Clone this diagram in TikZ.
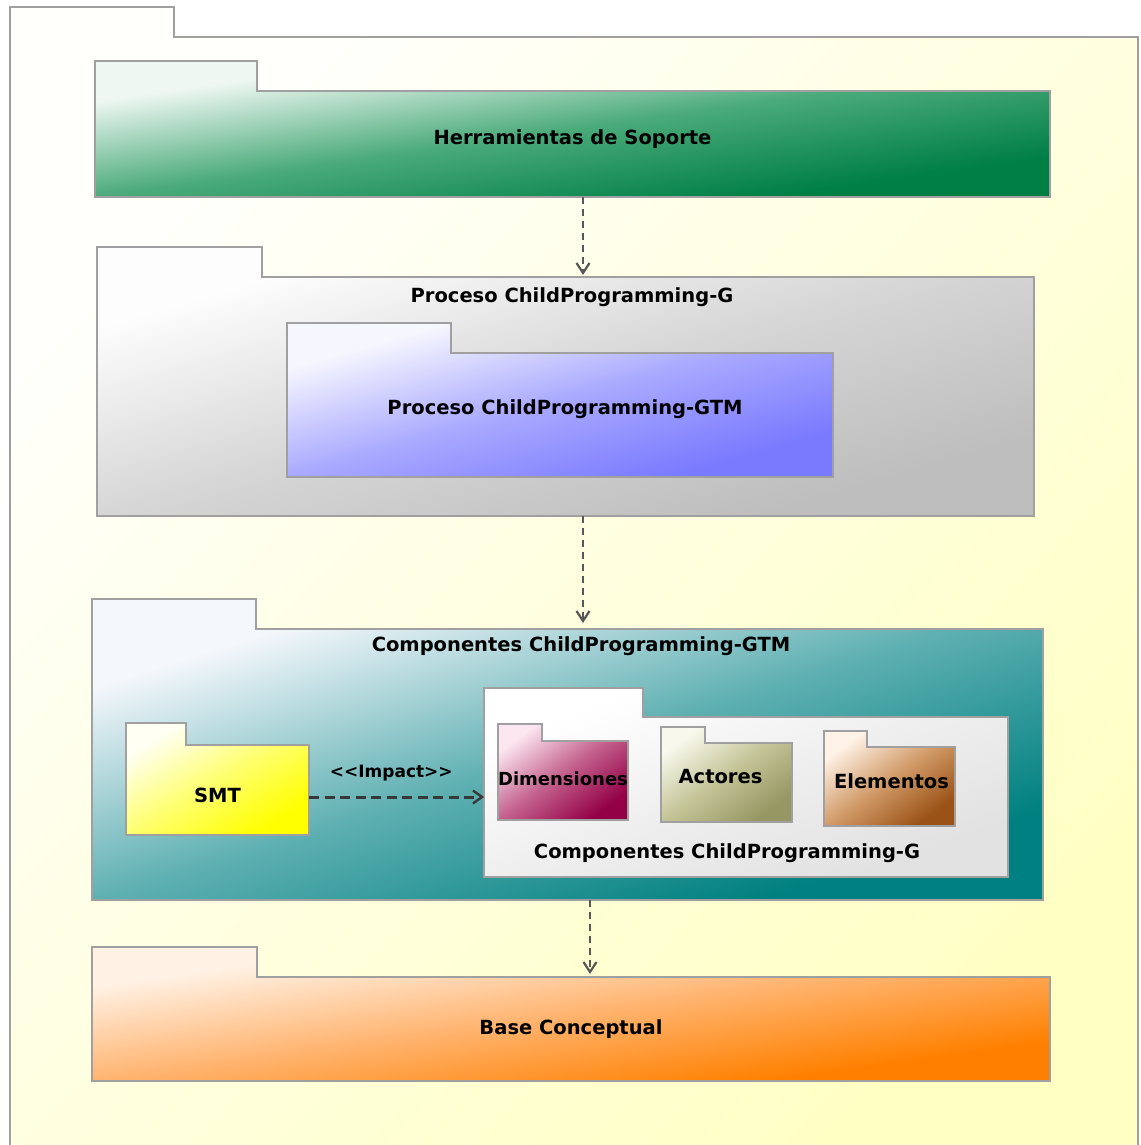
\documentclass[tikz,border=0pt]{standalone}
\usepackage{fontspec}
\setmainfont{DejaVu Sans}
\usetikzlibrary{arrows.meta}

% package fill colours: light corner, middle and dark corner of each gradient
\definecolor{bgL}{HTML}{FFFFFC}\definecolor{bgD}{HTML}{FFFFC4}
\definecolor{supL}{HTML}{EEF7F2}\definecolor{supM}{HTML}{4AAA7A}\definecolor{supD}{HTML}{007F45}
\definecolor{procL}{HTML}{FDFDFD}\definecolor{procM}{HTML}{D6D6D6}\definecolor{procD}{HTML}{BEBEBE}
\definecolor{gtmL}{HTML}{F6F6FF}\definecolor{gtmM}{HTML}{A9A9FF}\definecolor{gtmD}{HTML}{7A7AFF}
\definecolor{compL}{HTML}{F4F7FC}\definecolor{compM}{HTML}{5FB0B2}\definecolor{compD}{HTML}{008080}
\definecolor{smtL}{HTML}{FFFFF4}\definecolor{smtM}{HTML}{FFFF70}\definecolor{smtD}{HTML}{FFFF00}
\definecolor{cpgL}{HTML}{FFFFFF}\definecolor{cpgM}{HTML}{EFEFEF}\definecolor{cpgD}{HTML}{E2E2E2}
\definecolor{dimL}{HTML}{FCE6F0}\definecolor{dimM}{HTML}{C4628E}\definecolor{dimD}{HTML}{930046}
\definecolor{actL}{HTML}{F8F8EC}\definecolor{actM}{HTML}{C4C498}\definecolor{actD}{HTML}{979764}
\definecolor{eleL}{HTML}{FFF3E8}\definecolor{eleM}{HTML}{D29C6A}\definecolor{eleD}{HTML}{9A5216}
\definecolor{baseL}{HTML}{FFF1E4}\definecolor{baseM}{HTML}{FFB470}\definecolor{baseD}{HTML}{FF8000}
\definecolor{pkgedge}{HTML}{A0A0A0}

% UML package: name, gradient, left, tab top, tab right, body top, right, bottom.
% The gradient runs from the top-left corner to the bottom-right corner.
\newcommand\umlpkg[8]{%
  \begin{scope}
    \clip (#3,#4) -- (#5,#4) -- (#5,#6) -- (#7,#6) -- (#7,#8) -- (#3,#8) -- cycle;
    \begin{scope}[transform canvas={shift={(#3,#4)}, xscale={(#7-#3)/10}, yscale={(#8-#4)/10}}]
      \shade[#2] (0,0) rectangle (10,10);
    \end{scope}
  \end{scope}
  \draw[pkgline] (#3,#4) -- (#5,#4) -- (#5,#6) -- (#7,#6) -- (#7,#8) -- (#3,#8) -- cycle;
  \node[pkgbody, minimum width={(#7-#3)*1pt}, minimum height={(#8-#6)*1pt}]
    (#1) at ({(#3+#7)/2},{(#6+#8)/2}) {};%
}

\begin{document}
\begin{tikzpicture}[x=1pt,y=-1pt,
  pkgline/.style={draw=pkgedge, line width=1.5pt, line join=miter},
  pkgbody/.style={rectangle, inner sep=0pt, outer sep=0pt},
  grad/.style n args={3}{top color=#1, bottom color=#3, middle color=#2, shading angle=45},
  pkglabel/.style={font=\fontsize{19.5}{22}\selectfont\bfseries, inner sep=0pt},
  dependency/.style={draw=black!66, line width=2.5pt, dash pattern=on 7pt off 5pt,
    -{Straight Barb[length=10pt,width=13pt,line width=2.2pt]}},
  impact/.style={draw=black!78, line width=3pt, dash pattern=on 10pt off 5.5pt,
    -{Straight Barb[length=9pt,width=13pt,line width=2.4pt]}}
]
\useasboundingbox (0,0) rectangle (1140,1145);
\fill[white] (0,0) rectangle (1140,1145);

% enclosing package
\umlpkg{outer}{grad={bgL}{bgL!50!bgD}{bgD}}{10}{7}{174}{37}{1138}{1170}

% packages
\umlpkg{support}{grad={supL}{supM}{supD}}{95}{61}{257}{91}{1050}{197}
\umlpkg{process}{grad={procL}{procM}{procD}}{97}{247}{262}{277}{1034}{516}
\umlpkg{processgtm}{grad={gtmL}{gtmM}{gtmD}}{287}{323}{451}{353}{833}{477}
\umlpkg{components}{grad={compL}{compM}{compD}}{92}{599}{256}{629}{1043}{900}
\umlpkg{smt}{grad={smtL}{smtM}{smtD}}{126}{723}{186}{745}{309}{835}
\umlpkg{componentsg}{grad={cpgL}{cpgM}{cpgD}}{484}{688}{643}{717}{1008}{877}
\umlpkg{dimensiones}{grad={dimL}{dimM}{dimD}}{498}{724}{542}{741}{628}{820}
\umlpkg{actores}{grad={actL}{actM}{actD}}{661}{727}{705}{743}{792}{822}
\umlpkg{elementos}{grad={eleL}{eleM}{eleD}}{824}{731}{867}{747}{955}{826}
\umlpkg{base}{grad={baseL}{baseM}{baseD}}{92}{947}{257}{977}{1050}{1081}

% package names
\node[pkglabel] (supportlbl) at ([yshift=5pt]support.center) {Herramientas de Soporte};
\node[pkglabel] (processlbl) at ([xshift=6.5pt,yshift=-20pt]process.north) {Proceso ChildProgramming-G};
\node[pkglabel] (processgtmlbl) at ([xshift=5pt,yshift=6pt]processgtm.center) {Proceso ChildProgramming-GTM};
\node[pkglabel] (componentslbl) at ([xshift=13.5pt,yshift=-17pt]components.north) {Componentes ChildProgramming-GTM};
\node[pkglabel] (smtlbl) at ([yshift=-5pt]smt.center) {SMT};
\node[pkglabel] (componentsglbl) at ([xshift=-19pt,yshift=24pt]componentsg.south) {Componentes ChildProgramming-G};
\node[pkglabel, font=\fontsize{18}{22}\selectfont\bfseries] (dimensioneslbl) at ([yshift=2pt]dimensiones.center) {Dimensiones};
\node[pkglabel] (actoreslbl) at ([xshift=-6pt,yshift=6pt]actores.center) {Actores};
\node[pkglabel] (elementoslbl) at ([xshift=2pt,yshift=5pt]elementos.center) {Elementos};
\node[pkglabel] (baselbl) at (base.center) {Base Conceptual};

% dependencies
\draw[dependency] ([xshift=10.5pt]support.south) -- ([xshift=17.5pt,yshift=2pt]process.north);
\draw[dependency] ([xshift=17.5pt]process.south) -- ([xshift=15.5pt,yshift=6pt]components.north);
\draw[dependency] ([xshift=22.5pt]components.south) -- ([xshift=19pt,yshift=3pt]base.north);
\draw[impact] (smt.east |- componentsg.west) -- (componentsg.west)
  node[pos=0.47, yshift=24pt, font=\fontsize{17}{22}\selectfont\bfseries, inner sep=0pt] (impactlbl) {<{}<Impact>{}>};
\end{tikzpicture}
\end{document}
